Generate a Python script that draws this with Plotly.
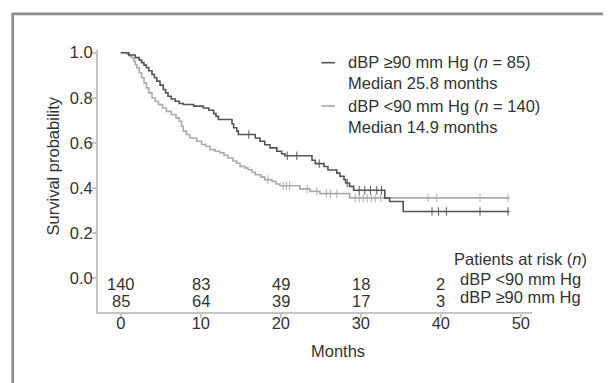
import numpy as np
import plotly.graph_objects as go

# ---- data ----
hi_time = [0, 1.0, 1.8, 2.3, 2.6, 2.9, 3.2, 3.5, 3.9, 4.2, 4.5, 4.9, 5.3, 5.6, 5.9, 6.3, 6.8,
           7.3, 7.8, 9.1, 10.3, 11.0, 11.6, 11.9, 12.2, 13.9, 14.1, 14.5, 14.7, 16.8, 17.4,
           18.0, 18.65, 19.5, 20.1, 20.5, 23.9, 24.3, 25.4, 25.9, 27.0, 27.4, 27.9, 28.1,
           28.6, 29.1, 33.0, 33.6, 35.3, 48.6]
hi_surv = [1.0, 0.99, 0.978, 0.967, 0.956, 0.945, 0.933, 0.92, 0.904, 0.889, 0.874, 0.856,
           0.837, 0.822, 0.807, 0.795, 0.785, 0.775, 0.77, 0.763, 0.755, 0.745, 0.73, 0.718,
           0.704, 0.685, 0.667, 0.652, 0.637, 0.622, 0.607, 0.592, 0.578, 0.563, 0.552,
           0.543, 0.523, 0.508, 0.495, 0.48, 0.466, 0.452, 0.437, 0.422, 0.407, 0.39, 0.355,
           0.34, 0.296, 0.296]
hi_cens = [16.0, 20.8, 22.0, 24.8, 28.3, 29.8, 30.5, 31.2, 32.0, 32.6, 38.9, 39.7, 40.7, 44.9, 48.4]

lo_time = [0, 0.8, 1.1, 1.35, 1.6, 1.8, 2.0, 2.3, 2.6, 2.9, 3.2, 3.5, 3.9, 4.3, 4.7, 5.2, 5.7,
           6.3, 6.9, 7.3, 7.6, 7.8, 8.2, 8.65, 9.5, 10.1, 10.6, 11.15, 11.8, 12.4, 12.9, 13.4,
           14.0, 14.5, 14.9, 15.5, 15.9, 16.4, 16.8, 17.5, 18.0, 18.9, 19.4, 19.9, 22.4,
           23.65, 24.9, 28.6, 48.6]
lo_surv = [1.0, 0.993, 0.985, 0.978, 0.963, 0.948, 0.933, 0.911, 0.889, 0.866, 0.844, 0.822,
           0.80, 0.785, 0.77, 0.755, 0.74, 0.726, 0.711, 0.696, 0.674, 0.652, 0.637, 0.622,
           0.607, 0.593, 0.585, 0.57, 0.563, 0.556, 0.545, 0.533, 0.52, 0.51, 0.496, 0.489,
           0.481, 0.47, 0.459, 0.448, 0.437, 0.429, 0.418, 0.41, 0.396, 0.385, 0.375, 0.356,
           0.356]
lo_cens = [18.4, 20.3, 20.7, 21.1, 23.3, 24.5, 25.7, 26.2, 27.0, 29.3, 29.8, 30.3, 30.8,
           31.3, 31.8, 32.5, 38.4, 39.5, 44.9, 48.4]

risk_times = [0, 10, 20, 30, 40]
risk_lo = [140, 83, 49, 18, 2]
risk_hi = [85, 64, 39, 17, 3]

x_ticks = [0, 10, 20, 30, 40, 50]
y_ticks = [0.0, 0.2, 0.4, 0.6, 0.8, 1.0]

DARK = "#555555"
LIGHT = "#ababab"
TXT = "#333333"
AX = "#c4c4c4"
FONT = "Liberation Sans, Arial, sans-serif"
FS = 16.5


def step_at(times, surv, t):
    idx = np.searchsorted(np.asarray(times), np.asarray(t), side="right") - 1
    return list(np.asarray(surv)[idx])


fig = go.Figure()
for t, s, c, col in [(lo_time, lo_surv, lo_cens, LIGHT), (hi_time, hi_surv, hi_cens, DARK)]:
    fig.add_trace(go.Scatter(x=t, y=s, mode="lines", line=dict(color=col, width=1.6, shape="hv"),
                             showlegend=False, hoverinfo="skip"))
    fig.add_trace(go.Scatter(x=c, y=step_at(t, s, c), mode="markers",
                             marker=dict(symbol="line-ns-open", size=6, color=col,
                                         line=dict(color=col, width=1)),
                             showlegend=False, hoverinfo="skip"))

ann = []
# numbers at risk
for xt, a, b in zip(risk_times, risk_lo, risk_hi):
    ann.append(dict(x=xt, y=-0.025, xref="x", yref="y", text=str(a), showarrow=False,
                    xanchor="center", yanchor="middle",
                    font=dict(size=FS, color=TXT, family=FONT)))
    ann.append(dict(x=xt, y=-0.099, xref="x", yref="y", text=str(b), showarrow=False,
                    xanchor="center", yanchor="middle",
                    font=dict(size=FS, color=TXT, family=FONT)))
for txt, yy in [("Patients at risk (<i>n</i>)", 0.086), ("dBP <90 mm Hg", -0.004),
                ("dBP ≥90 mm Hg", -0.082)]:
    ann.append(dict(x=49.9, y=yy, xref="x", yref="y", text=txt, showarrow=False,
                    xanchor="center", yanchor="middle",
                    font=dict(size=FS, color=TXT, family=FONT)))
# legend
for txt, yy in [("dBP ≥90 mm Hg (<i>n</i> = 85)<br>Median 25.8 months", 0.916),
                ("dBP <90 mm Hg (<i>n</i> = 140)<br>Median 14.9 months", 0.748)]:
    ann.append(dict(x=0.571, y=yy, xref="paper", yref="paper", text=txt, showarrow=False,
                    xanchor="left", yanchor="middle", align="left",
                    font=dict(size=FS, color=TXT, family=FONT)))
# axis titles
ann.append(dict(x=-0.1037, y=0.5, xref="paper", yref="y", text="Survival probability",
                textangle=-90, showarrow=False, xanchor="center", yanchor="middle",
                font=dict(size=FS, color=TXT, family=FONT)))
ann.append(dict(x=0.553, y=-0.149, xref="paper", yref="paper", text="Months",
                showarrow=False, xanchor="center", yanchor="middle",
                font=dict(size=FS, color=TXT, family=FONT)))

shapes = [
    dict(type="line", xref="paper", yref="paper", x0=0.515, x1=0.546, y0=0.9515, y1=0.9515,
         line=dict(color=DARK, width=1.6)),
    dict(type="line", xref="paper", yref="paper", x0=0.515, x1=0.546, y0=0.786, y1=0.786,
         line=dict(color=LIGHT, width=1.6)),
    dict(type="rect", xref="paper", yref="paper", x0=-0.1965, x1=1.25, y0=-0.35, y1=1.138,
         line=dict(color="#8c8c8c", width=2.7), layer="below"),
]

# page body has an 8px margin; figure is sized/margined to compensate
fig.update_layout(
    width=603, height=375,
    margin=dict(l=90, r=79, t=42, b=71),
    paper_bgcolor="white", plot_bgcolor="white",
    font=dict(family=FONT, size=FS, color=TXT),
    annotations=ann, shapes=shapes,
    xaxis=dict(range=[-2.85, 51.4], tickvals=x_ticks, ticktext=[str(v) for v in x_ticks],
               showgrid=False, zeroline=False, showline=True, linecolor=AX, linewidth=2,
               ticks="outside", ticklen=4, tickcolor=AX, tickwidth=1.5,
               ticklabelstandoff=-9,
               tickfont=dict(size=FS, color=TXT, family=FONT)),
    yaxis=dict(range=[-0.15, 1.012], tickvals=y_ticks, ticktext=[f"{v:.1f}" for v in y_ticks],
               showgrid=False, zeroline=False, showline=True, linecolor=AX, linewidth=2,
               ticks="outside", ticklen=4, tickcolor=AX, tickwidth=1.5,
               ticklabelstandoff=-4,
               tickfont=dict(size=FS, color=TXT, family=FONT)),
)

fig.write_html("out.html")
